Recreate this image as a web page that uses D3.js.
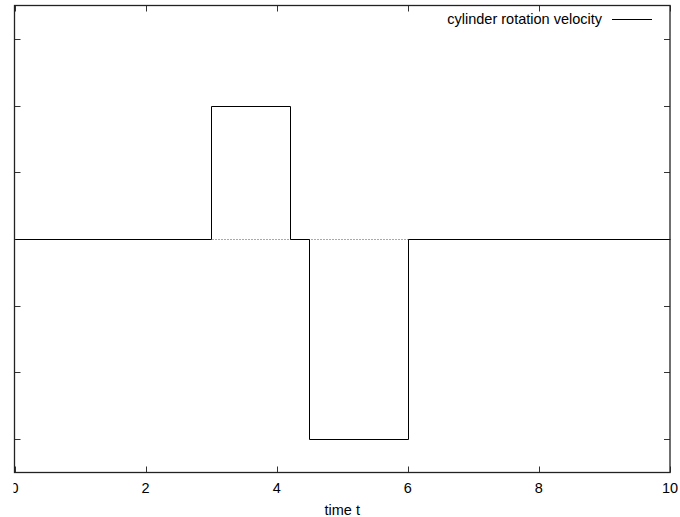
<!DOCTYPE html>
<html>
<head>
<meta charset="utf-8">
<script src="https://cdn.jsdelivr.net/npm/d3@7"></script>
<style>
  body { margin: 0; background: #fff; }
  svg text { font-family: "Liberation Sans", Arial, sans-serif; font-size: 14.5px; fill: #000; }
</style>
</head>
<body>
<div id="chart"></div>
<script>
// step signal: value holds from each time until the next one
const times = [0, 3, 4.2, 4.5, 6, 10];
const velocity = [0, 2, 0, -3, 0, 0];
const xTicks = [0, 2, 4, 6, 8, 10];
const yTicks = [-3, -2, -1, 0, 1, 2, 3];
const seriesName = "cylinder rotation velocity";
const xLabel = "time t";

const width = 680, height = 517;
const margin = { top: 5.5, right: 10, bottom: 44.5, left: 14.5 };

const svg = d3.select("#chart").append("svg")
    .attr("width", width)
    .attr("height", height);

const x = d3.scaleLinear().domain([0, 10]).range([margin.left, width - margin.right]);
const y = d3.scaleLinear().domain([-3.5, 3.5]).range([height - margin.bottom, margin.top]);

// clip for the left edge (the original image is cut just left of the axis)
svg.append("clipPath").attr("id", "edge")
    .append("rect").attr("x", 13.5).attr("y", 0).attr("width", width).attr("height", height);

// zero axis, dotted
svg.append("line")
    .attr("x1", x(0)).attr("x2", x(10))
    .attr("y1", Math.round(y(0)) + 0.5).attr("y2", Math.round(y(0)) + 0.5)
    .attr("stroke", "#555")
    .attr("stroke-dasharray", "1,2");

// ticks, inward and mirrored
const tickLen = 6;
const ticks = svg.append("g").attr("stroke", "#333").attr("stroke-width", 1);
xTicks.forEach(t => {
    const px = Math.round(x(t)) + 0.5;
    ticks.append("line").attr("x1", px).attr("x2", px)
        .attr("y1", y(-3.5)).attr("y2", y(-3.5) - tickLen);
    ticks.append("line").attr("x1", px).attr("x2", px)
        .attr("y1", y(3.5)).attr("y2", y(3.5) + tickLen);
});
yTicks.forEach(t => {
    const py = Math.round(y(t)) + 0.5;
    ticks.append("line").attr("x1", x(0)).attr("x2", x(0) + tickLen)
        .attr("y1", py).attr("y2", py);
    ticks.append("line").attr("x1", x(10)).attr("x2", x(10) - tickLen)
        .attr("y1", py).attr("y2", py);
});

// step line
const points = times.map((t, i) => [t, velocity[i]]);
const line = d3.line()
    .x(d => Math.round(x(d[0])) + 0.5)
    .y(d => Math.round(y(d[1])) + 0.5)
    .curve(d3.curveStepAfter);

svg.append("path")
    .datum(points)
    .attr("fill", "none")
    .attr("stroke", "#000")
    .attr("stroke-width", 1)
    .attr("d", line);

// frame
svg.append("rect")
    .attr("x", x(0)).attr("y", y(3.5))
    .attr("width", x(10) - x(0)).attr("height", y(-3.5) - y(3.5))
    .attr("fill", "none")
    .attr("stroke", "#222")
    .attr("stroke-width", 1.3);

// x tick labels
svg.append("g").attr("clip-path", "url(#edge)")
    .selectAll("text")
    .data(xTicks)
    .enter()
    .append("text")
    .attr("x", d => x(d))
    .attr("y", 492.5)
    .attr("text-anchor", "middle")
    .text(d => d);

svg.append("text")
    .attr("x", (x(0) + x(10)) / 2)
    .attr("y", 515)
    .attr("text-anchor", "middle")
    .text(xLabel);

// legend
svg.append("text")
    .attr("x", 602)
    .attr("y", 23.5)
    .attr("text-anchor", "end")
    .text(seriesName);
svg.append("line")
    .attr("x1", 612).attr("x2", 652)
    .attr("y1", 19.5).attr("y2", 19.5)
    .attr("stroke", "#000");
</script>
</body>
</html>
